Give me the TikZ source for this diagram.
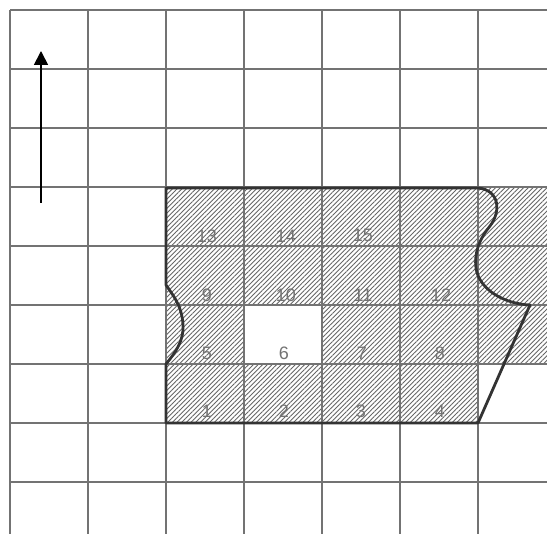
\documentclass[tikz,border=0pt]{standalone}
\usepackage{fontspec}
\setmainfont{Liberation Sans}
\usetikzlibrary{patterns.meta,arrows.meta}
\begin{document}
\begin{tikzpicture}[x=1pt,y=-1pt,
  gridline/.style={line width=1.3pt,draw=black!55},
  boundary/.style={line width=2.8pt,draw=black!80,line join=round},
  hatch/.style={pattern={Lines[angle=45,distance=3.3pt,line width=0.9pt]},pattern color=black!60},
  cellnum/.style={text=black!55,font=\fontsize{18}{18}\selectfont,inner sep=0pt}]
\useasboundingbox (0,0) rectangle (547,534);
\fill[white] (0,0) rectangle (547,534);
% hatched area
\fill[hatch] (166,188) rectangle (547,364);
\fill[hatch] (166,364) rectangle (478,423);
\fill[white] (244,305) rectangle (322,364);
% grid
\begin{scope}
\clip (0,0) rectangle (547,534);
\foreach \x in {10,88,166,244,322,400,478}
  \draw[gridline] (\x,10) -- (\x,540);
\foreach \y in {10,69,128,187,246,305,364,423,482}
  \draw[gridline] (10,\y) -- (550,\y);
\end{scope}
% boundary
\draw[boundary] (166,188) -- (478,188)
  .. controls (500,190) and (501,212) .. (490,226)
  .. controls (480,238) and (474,252) .. (476,268)
  .. controls (479,290) and (505,304) .. (530,305)
  -- (478,423) -- (166,423) -- (166,364)
  .. controls (176,352) and (184,340) .. (183,325)
  .. controls (182,305) and (172,294) .. (166,285) -- cycle;
% numbers
\node[cellnum] (c13) at (207,236) {13};
\node[cellnum] (c14) at (286,236) {14};
\node[cellnum] (c15) at (363,235) {15};
\node[cellnum] (c9) at (207,295) {9};
\node[cellnum] (c10) at (286,295) {10};
\node[cellnum] (c11) at (363,295) {11};
\node[cellnum] (c12) at (441,295) {12};
\node[cellnum] (c5) at (207,353) {5};
\node[cellnum] (c6) at (284,353) {6};
\node[cellnum] (c7) at (362,353) {7};
\node[cellnum] (c8) at (440,353) {8};
\node[cellnum] (c1) at (207,411) {1};
\node[cellnum] (c2) at (284,411) {2};
\node[cellnum] (c3) at (361,411) {3};
\node[cellnum] (c4) at (440,411) {4};
% north arrow
\coordinate (arrbase) at (41,203);
\coordinate (arrtip) at (41,51);
\draw[line width=1.8pt,-{Triangle[length=14pt,width=14pt]}] (arrbase) -- (arrtip);
\end{tikzpicture}
\end{document}
